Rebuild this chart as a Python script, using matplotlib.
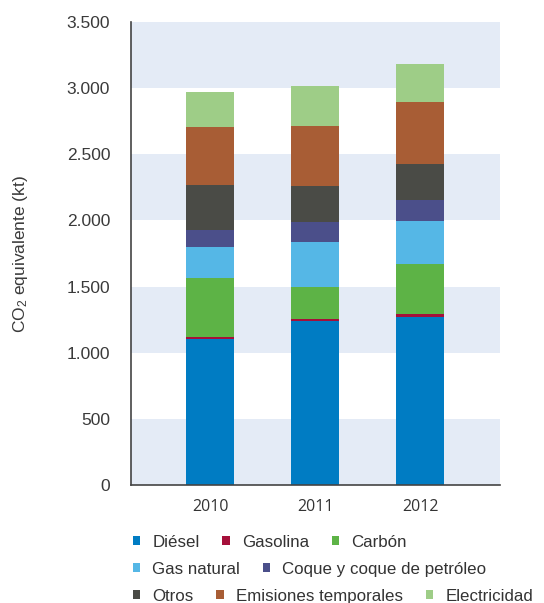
import numpy as np
import matplotlib
matplotlib.use("Agg")
import matplotlib.pyplot as plt

# emisiones por fuente, kt CO2 equivalente
years = ["2010", "2011", "2012"]
sources = ["Diésel", "Gasolina", "Carbón", "Gas natural",
           "Coque y coque de petróleo", "Otros",
           "Emisiones temporales", "Electricidad"]
diesel = [1105, 1241, 1272]
gasolina = [15, 15, 22]
carbon = [446, 242, 378]
gas_natural = [234, 340, 325]
coque = [129, 151, 158]
otros = [340, 272, 272]
emisiones_temp = [438, 453, 469]
electricidad = [264, 302, 287]
yticks = [0, 500, 1000, 1500, 2000, 2500, 3000, 3500]

series = [diesel, gasolina, carbon, gas_natural, coque, otros,
          emisiones_temp, electricidad]
colors = ["#007cc3", "#a50f3a", "#5db346", "#55b7e6", "#4b4f8a",
          "#4a4b46", "#a85d35", "#9ecd87"]

plt.rcParams["font.family"] = ["Liberation Sans", "DejaVu Sans"]
plt.rcParams["mathtext.fontset"] = "custom"
plt.rcParams["mathtext.rm"] = "Liberation Sans"
plt.rcParams["mathtext.it"] = "Liberation Sans"

fig = plt.figure(figsize=(5.44, 6.03), dpi=100)
ax = fig.add_axes([0.2408, 0.1957, 0.6783, 0.7678])

# alternating horizontal bands
for lo, hi in zip(yticks[:-1], yticks[1:]):
    if (lo // 500) % 2 == 0:
        ax.axhspan(lo, hi, color="#e4ebf6", lw=0, zorder=0)

x = np.arange(len(years))
bottom = np.zeros(len(years))
bars = []
for vals, col, name in zip(series, colors, sources):
    b = ax.bar(x, vals, width=0.457, bottom=bottom, color=col,
               label=name, zorder=2)
    bars.append(b)
    bottom += np.array(vals)

ax.set_xlim(-0.752, 2.76)
ax.set_ylim(0, 3500)
ax.set_yticks(yticks)
ax.set_yticklabels([f"{v:,}".replace(",", ".") for v in yticks])
ax.set_xticks(x)
ax.set_xticklabels(years, family="Open Sans", fontsize=11.5, color="#333333")
ax.tick_params(axis="y", length=0, pad=15, labelsize=12.5, labelcolor="#3a3a3a")
ax.tick_params(axis="x", length=0, pad=10)

for s in ["top", "right"]:
    ax.spines[s].set_visible(False)
for s in ["left", "bottom"]:
    ax.spines[s].set_color("#444444")
    ax.spines[s].set_linewidth(1.2)
    ax.spines[s].set_zorder(3)

ax.set_ylabel("CO$_2$ equivalente (kt)", fontsize=12.5, color="#3a3a3a",
              labelpad=26)

# legend in three rows
rows = [[0, 1, 2], [3, 4], [5, 6, 7]]
row_y = [0.101, 0.056, 0.011]
for idx, yy in zip(rows, row_y):
    leg = fig.legend([bars[i] for i in idx], [sources[i] for i in idx],
                     loc="center left", bbox_to_anchor=(0.244, yy),
                     ncol=len(idx), frameon=False, fontsize=12.2,
                     handlelength=0.45, handleheight=0.45,
                     handletextpad=0.7, columnspacing=1.35,
                     borderpad=0, borderaxespad=0)
    for t in leg.get_texts():
        t.set_color("#333333")

fig.savefig("out.png", dpi=100)
